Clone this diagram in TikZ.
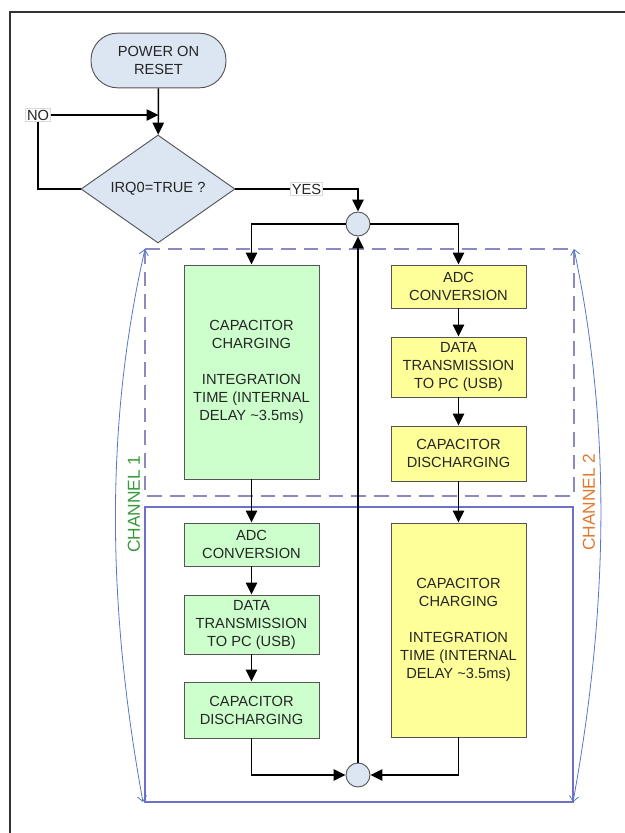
\documentclass[tikz,border=0pt]{standalone}
\usepackage{fontspec}
\setmainfont{Liberation Sans}
\usepackage{tikz}
\usetikzlibrary{arrows.meta,shapes.geometric}

\definecolor{FlowBlue}{HTML}{DCE6F2}
\definecolor{FlowGreen}{HTML}{CCFFCC}
\definecolor{FlowYellow}{HTML}{FFFF99}
\definecolor{FlowEdge}{HTML}{555555}
\definecolor{FrameDash}{HTML}{8A8AC0}
\definecolor{FrameSolid}{HTML}{6F6FCC}
\definecolor{BraceBlue}{HTML}{5478C8}
\definecolor{ChanGreen}{HTML}{3A9A3A}
\definecolor{ChanOrange}{HTML}{E07A30}

\begin{document}
\begin{tikzpicture}[
		x=0.75pt,
		y=-0.75pt,
		every node/.style={font=\fontsize{11}{13.5}\selectfont,text=black!85},
		flow/.style={-{Triangle[length=9pt,width=8.5pt]},line width=1.1pt},
		stage/.style={draw=FlowEdge,line width=0.7pt,align=center,inner sep=1pt,minimum width=101.25pt},
		greenstage/.style={stage,fill=FlowGreen},
		yellowstage/.style={stage,fill=FlowYellow},
		merge/.style={circle,draw=FlowEdge,fill=FlowBlue,line width=0.7pt,minimum size=18pt,inner sep=0pt},
		tag/.style={fill=white,draw=black!15,inner sep=1pt},
		brace/.style={{Straight Barb[length=4pt,width=7pt]}-{Straight Barb[length=4pt,width=7pt]},draw=BraceBlue,line width=0.6pt}
		]
		
		\def\ColOne{251.5}
		\def\ColTwo{458.5}
		\def\BigH{160.5pt}
		
		\useasboundingbox (0,0) rectangle (625,833);
		
		% Page frame, only the left and the top edge.
		\draw[line width=1.1pt,black!80] (10,833) -- (10,12) -- (625,12);
		
		% Regions of the two channels.
		\draw[FrameDash,line width=1.3pt,dash pattern=on 11pt off 6pt] (145,249) rectangle (574,496);
		\draw[FrameSolid,line width=0.9pt] (145,507) rectangle (573,802);
		
		% Brackets with the channel names.
		\coordinate (OneTop) at (145,249);
		\coordinate (OneBottom) at (143,802);
		\coordinate (TwoTop) at (574,249);
		\coordinate (TwoBottom) at (573,802);
		\draw[brace] (OneBottom) .. controls (106,600) and (106,420) .. (OneTop);
		\draw[brace] (TwoBottom) .. controls (610,600) and (610,420) .. (TwoTop);
		\node[rotate=90,text=ChanGreen,font=\fontsize{13}{15}\selectfont] (ChanOneName) at (134,504) {CHANNEL 1};
		\node[rotate=90,text=ChanOrange,font=\fontsize{13}{15}\selectfont] (ChanTwoName) at (589,502) {CHANNEL 2};
		
		% Start and test.
		\node[draw=FlowEdge,fill=FlowBlue,line width=0.7pt,rounded corners=20pt,align=center,
			minimum width=101.25pt,minimum height=41pt] (PowerReset) at (158.5,60.5) {POWER ON\\RESET};
		\node[diamond,draw=FlowEdge,fill=FlowBlue,line width=0.7pt,inner sep=0pt,
			minimum width=115.5pt,minimum height=69pt] (IrqTest) at (158,189) {IRQ0=TRUE ?};
		
		% Junctions.
		\node[merge] (MergeTop) at (358,224) {};
		\node[merge] (MergeBottom) at (358,775) {};
		
		% Channel 1 column.
		\node[greenstage,minimum height=\BigH] (OneCharge) at (\ColOne,372)
			{CAPACITOR\\CHARGING\\[13.5pt]INTEGRATION\\TIME (INTERNAL\\DELAY \textasciitilde3.5ms)};
		\node[greenstage,minimum height=32.25pt] (OneAdc) at (\ColOne,544.5) {ADC\\CONVERSION};
		\node[greenstage,minimum height=44.25pt] (OneData) at (\ColOne,624.5) {DATA\\TRANSMISSION\\TO PC (USB)};
		\node[greenstage,minimum height=42pt] (OneDischarge) at (\ColOne,710) {CAPACITOR\\DISCHARGING};
		
		% Channel 2 column.
		\node[yellowstage,minimum height=32.25pt] (TwoAdc) at (\ColTwo,286.5) {ADC\\CONVERSION};
		\node[yellowstage,minimum height=45pt] (TwoData) at (\ColTwo,367) {DATA\\TRANSMISSION\\TO PC (USB)};
		\node[yellowstage,minimum height=41.25pt] (TwoDischarge) at (\ColTwo,453.5) {CAPACITOR\\DISCHARGING};
		\node[yellowstage,minimum height=\BigH] (TwoCharge) at (\ColTwo,630)
			{CAPACITOR\\CHARGING\\[13.5pt]INTEGRATION\\TIME (INTERNAL\\DELAY \textasciitilde3.5ms)};
		
		% Connectors.
		\coordinate (NoCorner) at (38,115);
		\coordinate (NoJoin) at (158.5,115);
		\draw[flow] (PowerReset) -- (IrqTest);
		\draw[flow] (IrqTest.west) -| (NoCorner) -- (NoJoin);
		\node[tag] (NoTag) at (NoCorner) {NO};
		\draw[flow] (IrqTest.east) -| node[tag,pos=0.29] (YesTag) {YES} (MergeTop.north);
		\draw[flow] (MergeTop.west) -| (OneCharge.north);
		\draw[flow] (MergeTop.east) -| (TwoAdc.north);
		\draw[flow] (OneCharge) -- (OneAdc);
		\draw[flow] (OneAdc) -- (OneData);
		\draw[flow] (OneData) -- (OneDischarge);
		\draw[flow] (TwoAdc) -- (TwoData);
		\draw[flow] (TwoData) -- (TwoDischarge);
		\draw[flow] (TwoDischarge) -- (TwoCharge);
		\draw[flow] (OneDischarge.south) |- (MergeBottom.west);
		\draw[flow] (TwoCharge.south) |- (MergeBottom.east);
		\draw[flow] (MergeBottom.north) -- (MergeTop.south);
		
	\end{tikzpicture}
\end{document}
